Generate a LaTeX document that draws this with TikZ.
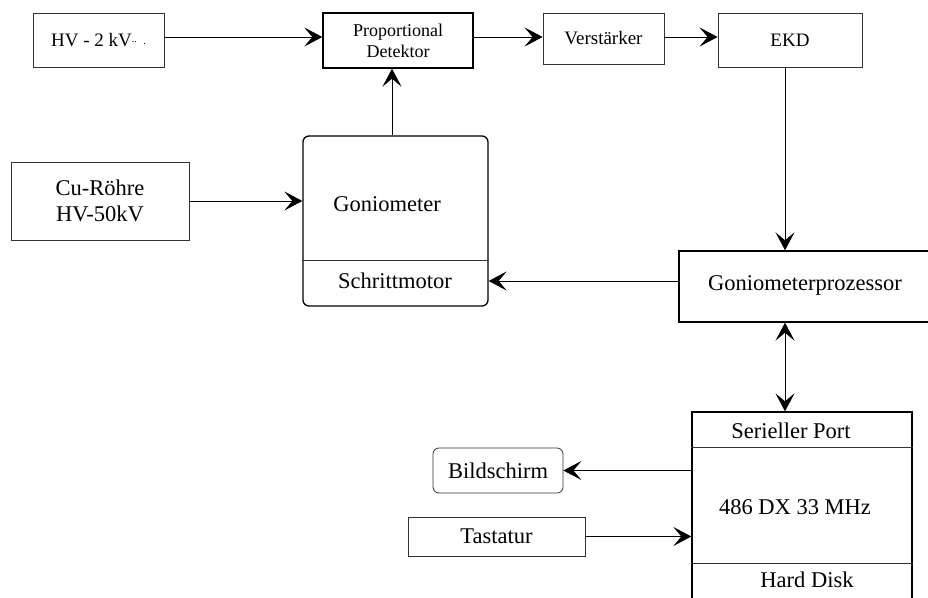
\documentclass[tikz,border=0pt]{standalone}
\usepackage{fontspec}
\setmainfont{Liberation Serif}
\usetikzlibrary{arrows.meta,calc}
\begin{document}
\begin{tikzpicture}[x=1pt,y=-1pt,
  box/.style={draw=black!80, line width=0.8pt, rectangle, inner sep=0pt},
  tbox/.style={draw=black, line width=1.4pt, rectangle, inner sep=0pt},
  big/.style={font=\fontsize{22.5}{26}\selectfont},
  small/.style={font=\fontsize{19}{21}\selectfont},
  tiny/.style={font=\fontsize{18}{21}\selectfont},
  tip/.tip={Stealth[length=18pt,width=19pt,inset=8pt]},
  arr/.style={line width=0.8pt, -tip},
  arrr/.style={line width=0.8pt, tip-tip},
  divider/.style={line width=0.8pt, draw=black!80}]
\useasboundingbox (0,0) rectangle (928,597);
\clip (0,0) rectangle (928,597);

% top row
\node[box, small, minimum width=131pt, minimum height=54pt] (hv) at (98.5,40)
  {HV - 2 kV\raisebox{0.45ex}{\fontsize{10}{10}\selectfont..}\,\,\raisebox{0.2ex}{\fontsize{10}{10}\selectfont.}};
\node[tbox, tiny, align=center, minimum width=150pt, minimum height=55pt] (prop) at (398,40.5)
  {Proportional\\Detektor};
\node[box, small, minimum width=121pt, minimum height=51pt] (verst) at (603.5,38.5) {Verstärker};
\node[box, small, minimum width=144pt, minimum height=54pt] (ekd) at (790,40) {EKD};

% Cu-Roehre
\node[box, big, align=center, minimum width=178pt, minimum height=78pt] (cu) at (100,201)
  {Cu-Röhre\\HV-50kV};

% Goniometer
\node[draw=black, line width=1.3pt, rounded corners=6pt, minimum width=185pt, minimum height=170pt] (gonio) at (395.5,221) {};
\draw[divider] (gonio.west |- 0,260) -- (gonio.east |- 0,260);
\node[big] (gtext) at (387,204) {Goniometer};
\node[big] (smot) at (395,281) {Schrittmotor};

% Goniometerprozessor
\node[tbox, minimum width=281pt, minimum height=71pt] (gp) at (819.5,286.5) {};
\node[big] (gptext) at (805,285) {Goniometerprozessor};

% Computer
\node[tbox, line width=1.3pt, minimum width=220pt, minimum height=228pt] (comp) at (802,526) {};
\draw[divider] (comp.west |- 0,447) -- (comp.east |- 0,447);
\draw[divider] (comp.west |- 0,563) -- (comp.east |- 0,563);
\node[big] (sport) at (791,431) {Serieller Port};
\node[big] (cpu) at (795,507) {486 DX 33 MHz};
\node[big] (hdd) at (807,580) {Hard Disk};

% Bildschirm, Tastatur
\node[box, big, rounded corners=6pt, minimum width=130pt, minimum height=45pt] (bild) at (498,470.5) {Bildschirm};
\node[box, big, minimum width=177pt, minimum height=39pt] (tast) at (496.5,536.5) {Tastatur};

% connectors
\draw[arr] ([yshift=3pt]hv.east) -- ([yshift=3pt]hv.east -| prop.west);
\draw[arr] ([yshift=3.5pt]prop.east) -- ([yshift=3.5pt]prop.east -| verst.west);
\draw[arr] ([yshift=1.5pt]verst.east) -- ([yshift=1.5pt]verst.east -| ekd.west);
\draw[arr] ([xshift=-5pt]ekd.south) -- ([xshift=-5pt]ekd.south |- gp.north);
\draw[arr] ([xshift=-3.5pt]gonio.north) -- ([xshift=-3.5pt]gonio.north |- prop.south);
\draw[arr] (cu.east) -- (cu.east -| gonio.west);
\draw[arr] (gp.west |- smot) -- (gonio.east |- smot);
\draw[arrr] ([xshift=-5pt]ekd.south |- gp.south) -- ([xshift=-5pt]ekd.south |- comp.north);
\draw[arr] (comp.west |- bild.east) -- (bild.east);
\draw[arr] (tast.east) -- (tast.east -| comp.west);
\end{tikzpicture}
\end{document}
